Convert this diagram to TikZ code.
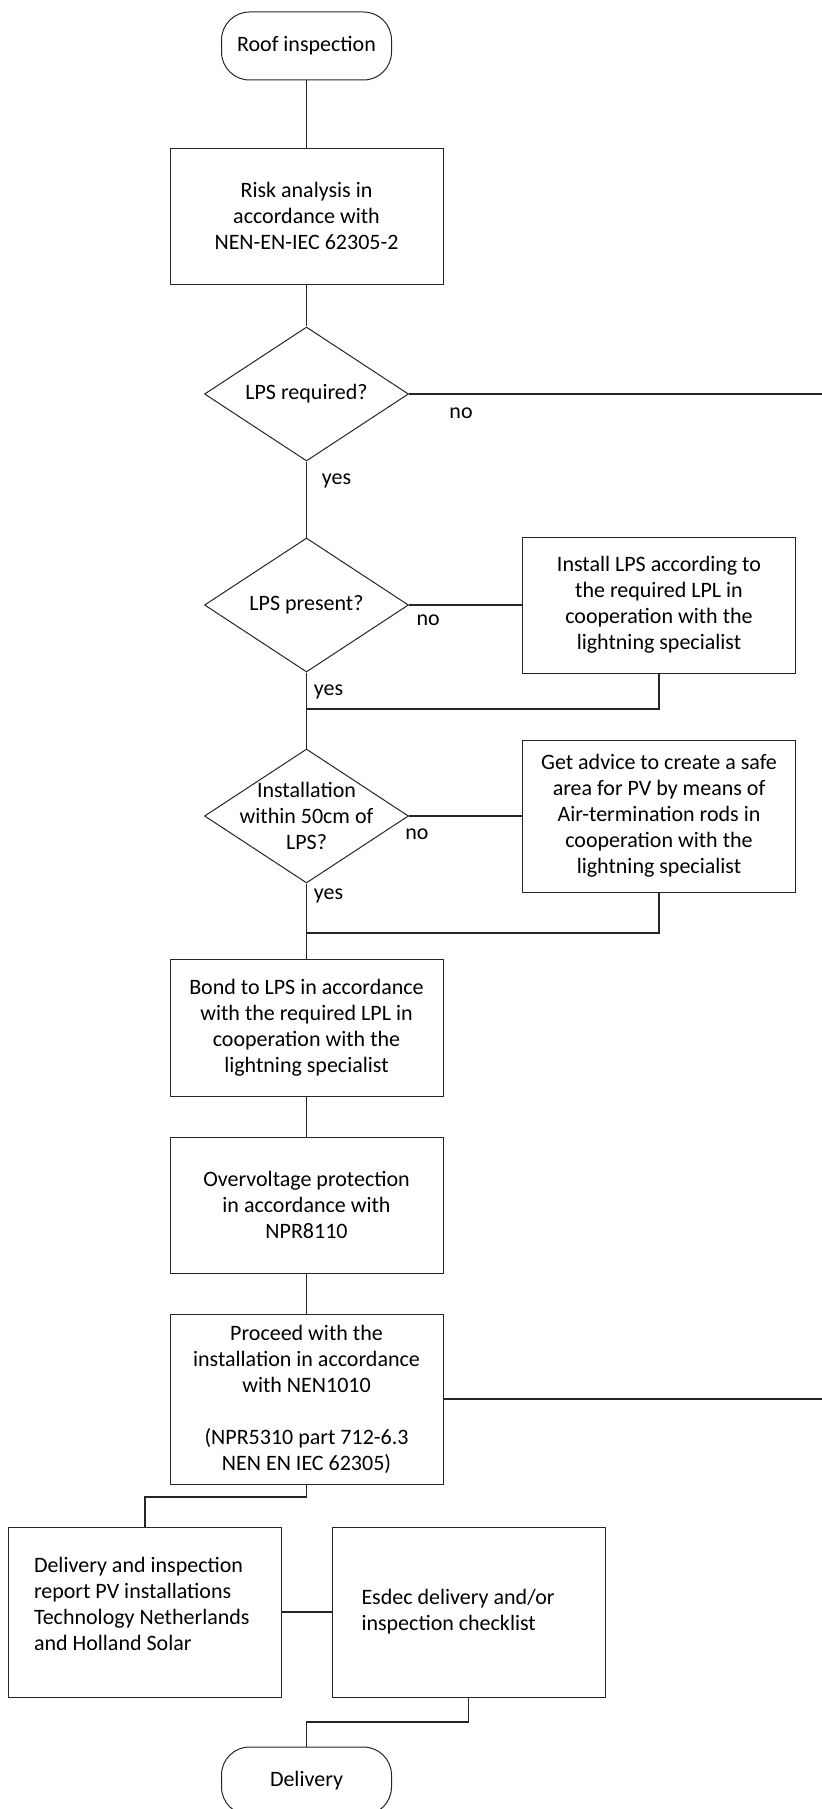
\documentclass[tikz,border=0pt]{standalone}
\usepackage{fontspec}
\setmainfont{Carlito}
\usetikzlibrary{shapes.geometric}
\definecolor{ink}{HTML}{262626}

\begin{document}
\begin{tikzpicture}[x=0.5pt,y=-0.5pt,font=\fontsize{11pt}{13pt}\selectfont,
  box/.style={draw=ink,line width=0.5pt,minimum width=136.5pt,align=center,inner sep=2pt},
  term/.style={draw=ink,line width=0.5pt,rounded corners=14pt,minimum width=85pt,minimum height=34pt},
  dec/.style={draw=ink,line width=0.5pt,diamond,minimum width=102pt,minimum height=67pt,inner sep=0pt},
  con/.style={draw=ink,line width=0.8pt}]
\useasboundingbox[fill=white] (0,0) rectangle (822,1809);
\node[term] (roof) at (306.5,46) {Roof inspection};
\node[box,minimum height=68pt] (risk) at (306.5,216) {Risk analysis in\\accordance with\\NEN-EN-IEC 62305-2};
\node[dec,label={center:LPS required?}] (req) at (306.5,394) {};
\node[dec,label={center:LPS present?}] (pres) at (306.5,605) {};
\node[box,minimum height=68pt] (inst) at (659,605) {Install LPS according to\\the required LPL in\\cooperation with the\\lightning specialist};
\node[dec,label={[align=center]center:{Installation\\within 50cm of\\LPS?}}] (near) at (306.5,816) {};
\node[box,minimum height=76pt] (adv) at (659,816) {Get advice to create a safe\\area for PV by means of\\Air-termination rods in\\cooperation with the\\lightning specialist};
\node[box,minimum height=68.5pt] (bond) at (306.5,1027.5) {Bond to LPS in accordance\\with the required LPL in\\cooperation with the\\lightning specialist};
\node[box,minimum height=68pt] (surge) at (306.5,1205) {Overvoltage protection\\in accordance with\\NPR8110};
\node[box,minimum height=85pt] (proc) at (306.5,1399) {Proceed with the\\installation in accordance\\with NEN1010\\[13pt](NPR5310 part 712-6.3\\NEN EN IEC 62305)};
\node[box,minimum height=85pt,text width=111pt,align=flush left,text depth=47pt] (rep) at (145,1612) {Delivery and inspection\\report PV installations\\Technology Netherlands\\and Holland Solar};
\node[box,minimum height=85pt,text width=107pt,align=flush left] (esdec) at (468.5,1612) {Esdec delivery and/or\\inspection checklist};
\node[term] (deliv) at (306.5,1781) {Delivery};
% free ends and joins
\coordinate (out1) at (822,394);
\coordinate (out2) at (822,1399);
\coordinate (j1) at (306.5,709);
\coordinate (j2) at (306.5,933);
\coordinate (j3) at (306.5,1497);
\coordinate (j4) at (306.5,1722);
\draw[con] (roof) -- (risk);
\draw[con] (risk) -- (req);
\draw[con] (req) -- node[below=3pt,pos=0.126]{no} (out1);
\draw[con] (req) -- node[right=4pt,pos=0.26]{yes} (pres);
\draw[con] (pres) -- node[below=1pt,pos=0.17]{no} (inst);
\draw[con] (pres) -- node[right=0pt,pos=0.25]{yes} (near);
\draw[con] (inst) |- (j1);
\draw[con] (near) -- node[below=2.5pt,pos=0.07]{no} (adv);
\draw[con] (near) -- node[right=0pt,pos=0.17]{yes} (bond);
\draw[con] (adv) |- (j2);
\draw[con] (bond) -- (surge);
\draw[con] (surge) -- (proc);
\draw[con] (proc) -- (out2);
\draw[con] (proc) -- (j3) -| (rep);
\draw[con] (rep) -- (esdec);
\draw[con] (esdec) |- (j4) -- (deliv);
\end{tikzpicture}
\end{document}
